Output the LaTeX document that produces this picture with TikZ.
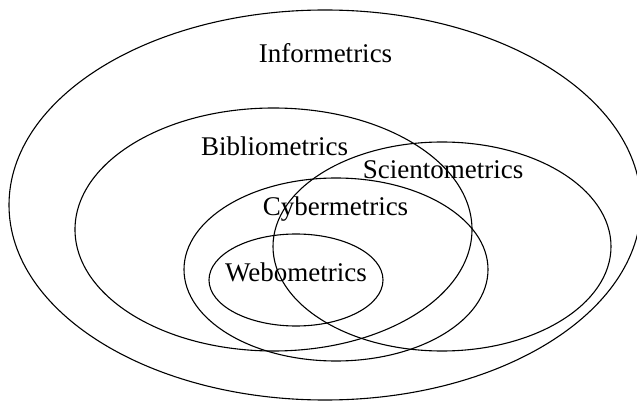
\documentclass[tikz,border=0pt]{standalone}
\usepackage{fontspec}
\setmainfont{Liberation Serif}
\begin{document}
\begin{tikzpicture}[x=1pt,y=-1pt,
  setring/.style={draw=black,line width=1.1pt},
  setlabel/.style={anchor=base,inner sep=0pt,font=\fontsize{27}{30}\selectfont}]
\useasboundingbox (0,0) rectangle (637,403);
\begin{scope}
\clip (0,0) rectangle (637,403);
\coordinate (cinf) at (325,205);
\coordinate (cbib) at (273.5,229.5);
\coordinate (csci) at (442,246.5);
\coordinate (ccyb) at (336,269.5);
\coordinate (cweb) at (296,280);
\draw[setring] (cinf) ellipse [x radius=316, y radius=195];
\draw[setring] (cbib) ellipse [x radius=198.5, y radius=121.5];
\draw[setring] (csci) ellipse [x radius=169, y radius=104.5];
\draw[setring] (ccyb) ellipse [x radius=152, y radius=91.5];
\draw[setring] (cweb) ellipse [x radius=87, y radius=46];
\end{scope}
\node[setlabel] (tinf) at (325.5,63) {Informetrics};
\node[setlabel] (tbib) at (274.5,156) {Bibliometrics};
\node[setlabel] (tsci) at (443,179) {Scientometrics};
\node[setlabel] (tcyb) at (335.5,216) {Cybermetrics};
\node[setlabel] (tweb) at (296,282) {Webometrics};
\end{tikzpicture}
\end{document}
